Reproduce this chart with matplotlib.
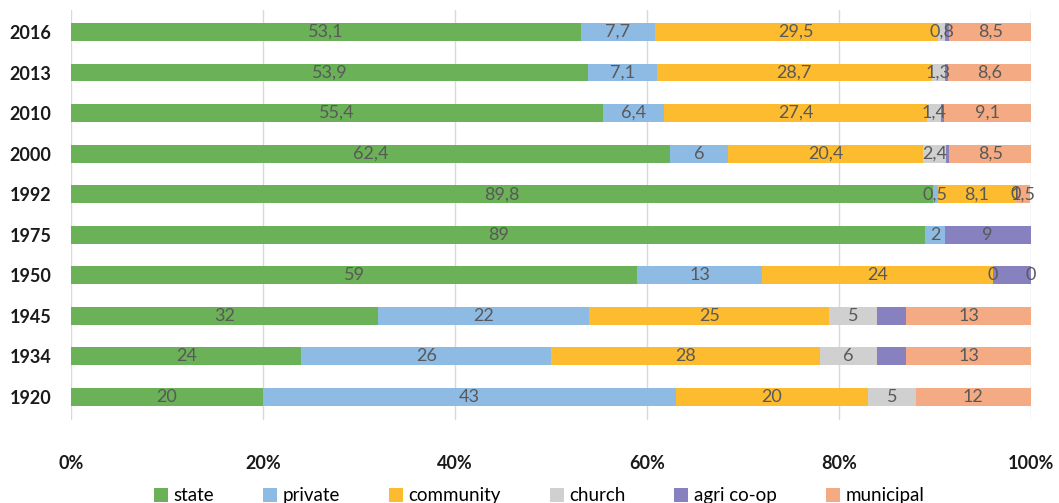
import numpy as np
import matplotlib.pyplot as plt

plt.rcParams['font.family'] = ['Lato', 'DejaVu Sans']

years = ['2016', '2013', '2010', '2000', '1992', '1975', '1950', '1945', '1934', '1920']

# share of forest ownership, percent (None = no segment)
state = [53.1, 53.9, 55.4, 62.4, 89.8, 89, 59, 32, 24, 20]
private = [7.7, 7.1, 6.4, 6, 0.5, 2, 13, 22, 26, 43]
community = [29.5, 28.7, 27.4, 20.4, 8.1, None, 24, 25, 28, 20]
church = [0.8, 1.3, 1.4, 2.4, 0, None, 0, 5, 6, 5]
agri_coop = [0.4, 0.4, 0.3, 0.3, None, 9, 4, 3, 3, None]
municipal = [8.5, 8.6, 9.1, 8.5, 1.5, None, 0, 13, 13, 12]

series = [
    ('state', state, '#6ab157'),
    ('private', private, '#8ebbe4'),
    ('community', community, '#fdbb30'),
    ('church', church, '#d0d0d0'),
    ('agri co-op', agri_coop, '#8782bf'),
    ('municipal', municipal, '#f4ab84'),
]
# which agri co-op segments carry a value label
agri_labelled = [False, False, False, False, False, True, False, False, False, False]

fig = plt.figure(figsize=(10.59, 5.03), dpi=100)
ax = fig.add_axes([0.067, 0.165, 0.9065, 0.815])

ypos = np.arange(len(years))
left = np.zeros(len(years))
for name, vals, color in series:
    v = np.array([0 if x is None else x for x in vals], dtype=float)
    ax.barh(ypos, v, left=left, height=0.44, color=color, label=name, zorder=2)
    for i, x in enumerate(vals):
        if x is None:
            continue
        if name == 'agri co-op' and not agri_labelled[i]:
            continue
        txt = f'{x:g}'.replace('.', ',')
        ax.text(left[i] + v[i] / 2, ypos[i], txt, ha='center', va='center',
                fontsize=13, color='#595959', zorder=3)
    left += v

ax.set_xlim(0, 100)
ax.set_ylim(9.57, -0.54)
ax.set_yticks(ypos)
ax.set_yticklabels(years, fontsize=13, fontweight='bold', color='#1a1a1a')
ax.set_xticks(np.arange(0, 101, 20))
ax.set_xticklabels([f'{t}%' for t in range(0, 101, 20)], fontsize=13,
                   fontweight='bold', color='#1a1a1a')
ax.tick_params(axis='both', length=0)
ax.tick_params(axis='x', pad=25)
ax.tick_params(axis='y', pad=14)
ax.grid(axis='x', color='#d9d9d9', linewidth=1, zorder=0)
for s in ax.spines.values():
    s.set_visible(False)

fig.legend(loc='center', bbox_to_anchor=(0.509, 0.014), ncol=6, frameon=False,
           fontsize=13.5, handlelength=0.75, handleheight=0.75, handletextpad=0.3,
           columnspacing=2.6)

fig.savefig('out.png', dpi=100)
